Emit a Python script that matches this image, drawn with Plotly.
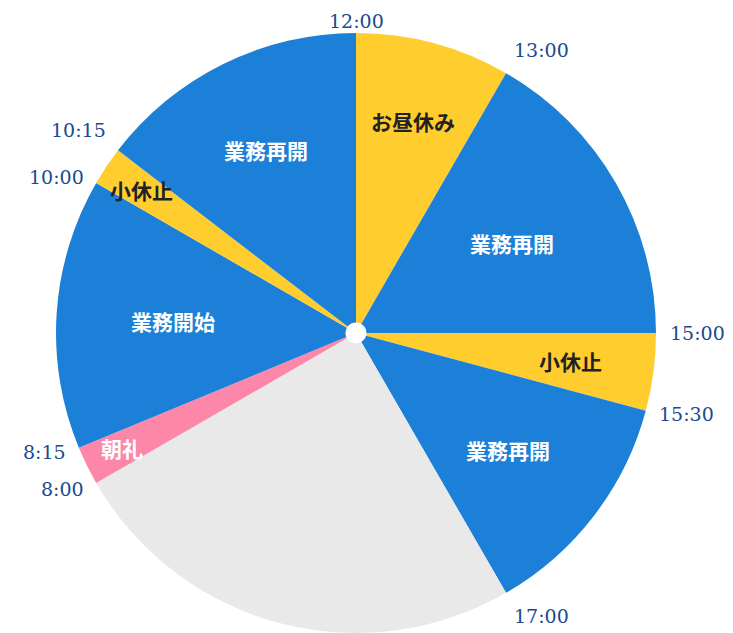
import math
import plotly.graph_objects as go

# Data: a 12-hour clock face, slices in hours starting at 12:00, clockwise
slice_ids = ["12:00-13:00", "13:00-15:00", "15:00-15:30", "15:30-17:00",
             "17:00-8:00", "8:00-8:15", "8:15-10:00", "10:00-10:15", "10:15-12:00"]
activities = ["お昼休み", "業務再開", "小休止", "業務再開", "", "朝礼", "業務開始", "小休止", "業務再開"]
durations = [1, 2, 0.5, 1.5, 3, 0.25, 1.75, 0.25, 1.75]
start_times = ["12:00", "13:00", "15:00", "15:30", "17:00", "8:00", "8:15", "10:00", "10:15"]

# Styles
BLUE = "#1c80d8"
YELLOW = "#ffcd2e"
PINK = "#fd87a9"
GREY = "#e9e9e9"
colors = [YELLOW, BLUE, YELLOW, BLUE, GREY, PINK, BLUE, YELLOW, BLUE]
text_colors = ["#222222", "white", "#222222", "white", "#222222", "white", "white", "#222222", "white"]
label_radius = [0.73, 0.60, 0.72, 0.64, 0.0, 0.87, 0.61, 0.86, 0.68]

W, H = 733, 633
ML, MR, MT, MB = 48, 85, 25, 8
PW, PH = W - ML - MR, H - MT - MB
R = min(PW, PH) / 2
cx, cy = ML + PW / 2, MT + PH / 2
TIME_FONT = 19
TIME_BOX_H = 24


def to_paper(px, py):
    return (px - ML) / PW, (H - MB - py) / PH


fig = go.Figure(go.Pie(
    labels=slice_ids,
    values=durations,
    textinfo="none",
    sort=False,
    direction="clockwise",
    rotation=0,
    hole=0.035,
    marker=dict(colors=colors, line=dict(width=0)),
    showlegend=False,
    hoverinfo="label",
))

annotations = []
total = sum(durations)
acc = 0.0
for t, d, act, tc, lr in zip(start_times, durations, activities, text_colors, label_radius):
    # boundary time label
    theta = acc / total * 2 * math.pi
    s, c = math.sin(theta), math.cos(theta)
    r = R + 12
    px, py = cx + r * s, cy - r * c
    xa = "left" if s > 0.3 else ("right" if s < -0.3 else "center")
    ya = "bottom" if c > 0.55 else ("top" if c < -0.55 else "middle")
    if ya == "bottom" and py - TIME_BOX_H < 0:
        ya, py = "top", 0
    x, y = to_paper(px, py)
    annotations.append(dict(
        x=x, y=y, xref="paper", yref="paper", text=t, showarrow=False,
        xanchor=xa, yanchor=ya,
        font=dict(family="DejaVu Serif", size=TIME_FONT, color="#1a4a8f"),
    ))
    # slice activity label
    if act:
        mid = (acc + d / 2) / total * 2 * math.pi
        rr = R * lr
        x, y = to_paper(cx + rr * math.sin(mid), cy - rr * math.cos(mid))
        annotations.append(dict(
            x=x, y=y, xref="paper", yref="paper", text=act, showarrow=False,
            xanchor="center", yanchor="middle",
            font=dict(family="Noto Sans CJK JP", size=21, color=tc, weight="bold"),
        ))
    acc += d

fig.update_layout(
    width=W, height=H,
    margin=dict(l=ML, r=MR, t=MT, b=MB),
    paper_bgcolor="white", plot_bgcolor="white",
    annotations=annotations,
)

fig.write_html("out.html")
